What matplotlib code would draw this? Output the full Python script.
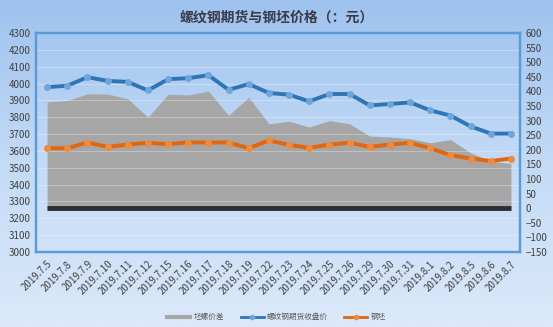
import numpy as np
import matplotlib
matplotlib.use("Agg")
import matplotlib.pyplot as plt
from matplotlib.lines import Line2D
from matplotlib.colors import LinearSegmentedColormap

plt.rcParams["font.family"] = ["Noto Sans CJK SC", "DejaVu Sans"]

dates = ["2019.7.5", "2019.7.8", "2019.7.9", "2019.7.10", "2019.7.11", "2019.7.12",
         "2019.7.15", "2019.7.16", "2019.7.17", "2019.7.18", "2019.7.19", "2019.7.22",
         "2019.7.23", "2019.7.24", "2019.7.25", "2019.7.26", "2019.7.29", "2019.7.30",
         "2019.7.31", "2019.8.1", "2019.8.2", "2019.8.5", "2019.8.6", "2019.8.7"]

# 螺纹钢期货收盘价 (left axis)
rebar = [3979, 3987, 4038, 4016, 4010, 3959, 4026, 4032, 4050, 3963, 3997, 3944,
         3934, 3894, 3938, 3938, 3870, 3879, 3888, 3841, 3810, 3746, 3703, 3703]
# 钢坯 (left axis)
billet = [3616, 3616, 3650, 3624, 3638, 3648, 3640, 3650, 3650, 3650, 3616, 3662,
          3636, 3618, 3638, 3648, 3624, 3638, 3648, 3616, 3575, 3555, 3540, 3555]
# 坯螺价差 (right axis)
spread = [364, 369, 392, 391, 375, 312, 390, 388, 401, 318, 380, 289,
          298, 278, 300, 289, 247, 244, 238, 224, 235, 190, 161, 153]

left_ticks = list(range(3000, 4301, 100))
right_ticks = list(range(-150, 601, 50))

x = np.arange(len(dates))

fig = plt.figure(figsize=(5.53, 3.27), dpi=100)

# light blue vertical gradient behind everything
bg = fig.add_axes([0, 0, 1, 1], zorder=-10)
grad = np.linspace(0, 1, 256).reshape(-1, 1)
cmap = LinearSegmentedColormap.from_list("bg", ["#9ec2ee", "#c4dbf6", "#dbe9fa"])
bg.imshow(grad, aspect="auto", cmap=cmap, extent=[0, 1, 0, 1], origin="upper")
bg.axis("off")

ax = fig.add_axes([0.0651, 0.2294, 0.8752, 0.6696])
ax.patch.set_alpha(0)
ax2 = ax.twinx()
ax2.patch.set_alpha(0)

# spread area on the right axis, dark baseline at zero
ax2.fill_between(x, 0, spread, color="#a6a6a6", lw=0, zorder=1)
ax2.plot([x[0], x[-1]], [0, 0], color="#2a2e38", lw=3.5, solid_capstyle="butt", zorder=2)
ax2.set_ylim(-150, 600)
ax2.set_yticks(right_ticks)

ax.set_zorder(ax2.get_zorder() + 1)
ax.plot(x, rebar, color="#2e75b6", lw=2.8, marker="o", ms=4,
        mfc="#6ea6dc", mec="#6ea6dc", zorder=3)
ax.plot(x, billet, color="#e0660f", lw=2.8, marker="o", ms=4,
        mfc="#f08a3c", mec="#f08a3c", zorder=3)
ax.set_ylim(3000, 4300)
ax.set_yticks(left_ticks)
ax.set_xlim(-0.55, 23.45)
ax.set_xticks(x)
ax.set_xticklabels(dates, rotation=45, ha="right", rotation_mode="anchor",
                   fontsize=7, color="#404040")

for t in left_ticks:
    ax.axhline(t, color="white", lw=0.6, alpha=0.35, zorder=0)

for a in (ax, ax2):
    a.tick_params(axis="both", length=0, labelsize=7, labelcolor="#404040", pad=4)
    for s in a.spines.values():
        s.set_color("#5b9bd5")
        s.set_linewidth(1.6)
ax.tick_params(axis="x", pad=5)

fig.text(0.5, 0.945, "螺纹钢期货与钢坯价格（：元）", ha="center", va="center",
         fontsize=10, fontweight="bold", color="#3a3a4a")

handles = [
    Line2D([], [], color="#a6a6a6", lw=3),
    Line2D([], [], color="#2e75b6", lw=2, marker="o", ms=3, mfc="#6ea6dc", mec="#6ea6dc"),
    Line2D([], [], color="#e0660f", lw=2, marker="o", ms=3, mfc="#f08a3c", mec="#f08a3c"),
]
fig.legend(handles, ["坯螺价差", "螺纹钢期货收盘价", "钢坯"], loc="center",
           bbox_to_anchor=(0.5, 0.03), ncol=3, frameon=False, fontsize=5.5,
           labelcolor="#595959", handlelength=3, columnspacing=2.2, handletextpad=0.4)

fig.savefig("out.png", dpi=100)
